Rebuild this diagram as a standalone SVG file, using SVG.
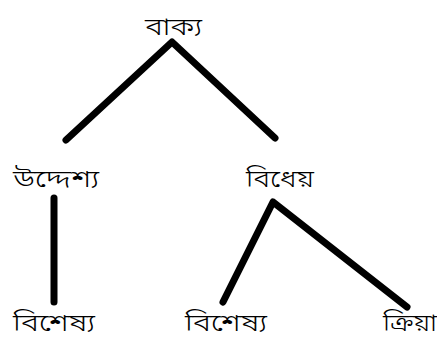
<svg xmlns="http://www.w3.org/2000/svg" width="437" height="341" viewBox="0 0 437 341">
<style>
text{font-family:"Noto Sans Bengali","Vrinda","Noto Sans",sans-serif;font-size:24px;font-weight:300;fill:#000;text-anchor:middle}
.e{stroke:#000;stroke-width:7;stroke-linecap:round;stroke-linejoin:round;fill:none}
</style>
<rect width="437" height="341" fill="#fff"/>
<g id="connectors">
<polyline class="e" points="66,140 172,42 275,138"/>
<line class="e" x1="54" y1="198" x2="54" y2="302"/>
<polyline class="e" points="223,302 273,202 407,307"/>
</g>
<g id="n-root"><text x="173.5" y="35" textLength="57" lengthAdjust="spacingAndGlyphs">বাক্য</text></g>
<g id="n-subject"><text x="56" y="187" textLength="86" lengthAdjust="spacingAndGlyphs">উদ্দেশ্য</text></g>
<g id="n-predicate"><text x="280" y="187" textLength="68" lengthAdjust="spacingAndGlyphs">বিধেয়</text></g>
<g id="n-noun1"><text x="54" y="331" textLength="82" lengthAdjust="spacingAndGlyphs">বিশেষ্য</text></g>
<g id="n-noun2"><text x="226" y="331" textLength="82" lengthAdjust="spacingAndGlyphs">বিশেষ্য</text></g>
<g id="n-verb"><text x="410" y="331" textLength="54" lengthAdjust="spacingAndGlyphs">ক্রিয়া</text></g>
</svg>
